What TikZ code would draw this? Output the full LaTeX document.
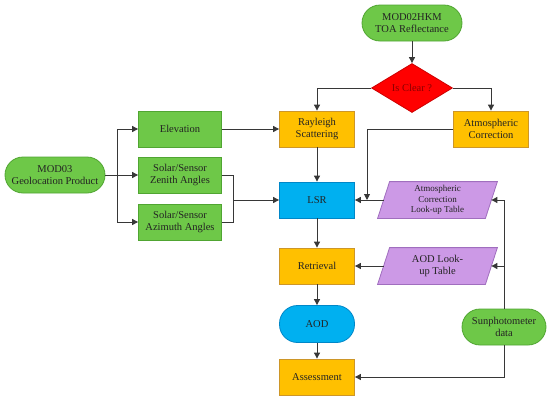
\documentclass[tikz,border=0pt]{standalone}
\usepackage{fontspec}
\setmainfont{Liberation Serif}
\usetikzlibrary{shapes.geometric,arrows.meta,backgrounds}
\definecolor{gfill}{RGB}{110,200,72}
\definecolor{gline}{RGB}{80,165,50}
\definecolor{ofill}{RGB}{255,192,0}
\definecolor{oline}{RGB}{205,150,40}
\definecolor{bfill}{RGB}{0,176,240}
\definecolor{bline}{RGB}{0,135,200}
\definecolor{pfill}{RGB}{204,153,230}
\definecolor{pline}{RGB}{160,110,190}
\definecolor{rfill}{RGB}{255,0,0}
\definecolor{txt}{RGB}{35,35,35}
\definecolor{arrc}{RGB}{55,55,55}
\tikzset{
  base/.style={font=\fontsize{10.5}{12.6}\selectfont, text=txt, align=center, inner sep=1pt, line width=0.8pt},
  gterm/.style={base, draw=gline, fill=gfill, rounded corners=18pt, minimum width=100pt, minimum height=36pt},
  gbox/.style={base, draw=gline, fill=gfill, minimum width=83pt, minimum height=36pt},
  obox/.style={base, draw=oline, fill=ofill, minimum width=75pt, minimum height=36pt},
  bbox/.style={base, draw=bline, fill=bfill, minimum width=75pt, minimum height=36pt},
  bterm/.style={base, draw=bline, fill=bfill, rounded corners=18pt, minimum width=75pt, minimum height=37pt},
  lutnode/.style={base, minimum width=107pt, minimum height=36pt},
  lutshape/.style={draw=pline, fill=pfill, line width=0.8pt},
  dec/.style={base, diamond, draw=rfill!80!black, fill=rfill, text=red!55!black, minimum width=81pt, minimum height=49pt, inner sep=0pt, aspect=1.65},
  arr/.style={draw=arrc, line width=0.9pt, -{Triangle[length=6pt,width=6pt]}},
  ln/.style={draw=arrc, line width=0.9pt}
}
\begin{document}
\begin{tikzpicture}[x=1pt,y=-1pt]
\useasboundingbox (0,0) rectangle (550,402);
\node[gterm] (mod02) at (412,23) {MOD02HKM\\TOA Reflectance};
\node[dec] (clear) at (412,88) {Is Clear ?};
\node[obox] (ray) at (317,129) {Rayleigh\\Scattering};
\node[obox] (atm) at (491,129) {Atmospheric\\Correction};
\node[gbox] (elev) at (180,129) {Elevation};
\node[gterm] (mod03) at (55,175) {MOD03\\Geolocation Product};
\node[gbox] (zen) at (180,175) {Solar/Sensor\\Zenith Angles};
\node[gbox] (azi) at (180,222) {Solar/Sensor\\Azimuth Angles};
\node[bbox] (lsr) at (317,200) {LSR};
\node[obox] (ret) at (317,266) {Retrieval};
\node[bterm] (aod) at (317,324) {AOD};
\node[obox] (ass) at (317,377) {Assessment};
\node[lutnode, font=\fontsize{9}{10.8}\selectfont] (aclut) at (437.5,200) {Atmospheric\\Correction\\Look-up Table};
\node[lutnode] (aodlut) at (437.5,266) {AOD Look-\\up Table};
\node[gterm, minimum width=84pt] (sun) at (504,327) {Sunphotometer\\data};
\begin{scope}[on background layer]
\foreach \n in {aclut,aodlut}{
  \path[lutshape] ([xshift=6pt]\n.north west) -- ([xshift=6pt]\n.north east) -- ([xshift=-6pt]\n.south east) -- ([xshift=-6pt]\n.south west) -- cycle;
}
\end{scope}
\coordinate (s1) at (117,175);
\coordinate (s2) at (233,200);
\coordinate (j1) at (367,200);
\coordinate (s3) at (504,266);
\draw[arr] (mod02) -- (clear);
\draw[arr] (clear.west) -| (ray.north);
\draw[arr] (clear.east) -| (atm.north);
\draw[arr] (elev.east) -- (ray.west);
\draw[arr] (ray) -- (lsr);
\draw[arr] (atm.west) -| (j1);
\draw[arr] (aclut.west) -- (lsr.east);
\draw[ln] (mod03.east) -- (s1);
\draw[arr] (s1) |- (elev.west);
\draw[arr] (s1) -- (zen.west);
\draw[arr] (s1) |- (azi.west);
\draw[ln] (zen.east) -| (s2);
\draw[ln] (azi.east) -| (s2);
\draw[arr] (s2) -- (lsr.west);
\draw[arr] (lsr) -- (ret);
\draw[arr] (ret) -- (aod);
\draw[arr] (aod) -- (ass);
\draw[arr] (aodlut.west) -- (ret.east);
\draw[arr] (sun.north) |- (aclut.east);
\draw[arr] (s3) -- (aodlut.east);
\draw[arr] (sun.south) |- (ass.east);
\end{tikzpicture}
\end{document}
